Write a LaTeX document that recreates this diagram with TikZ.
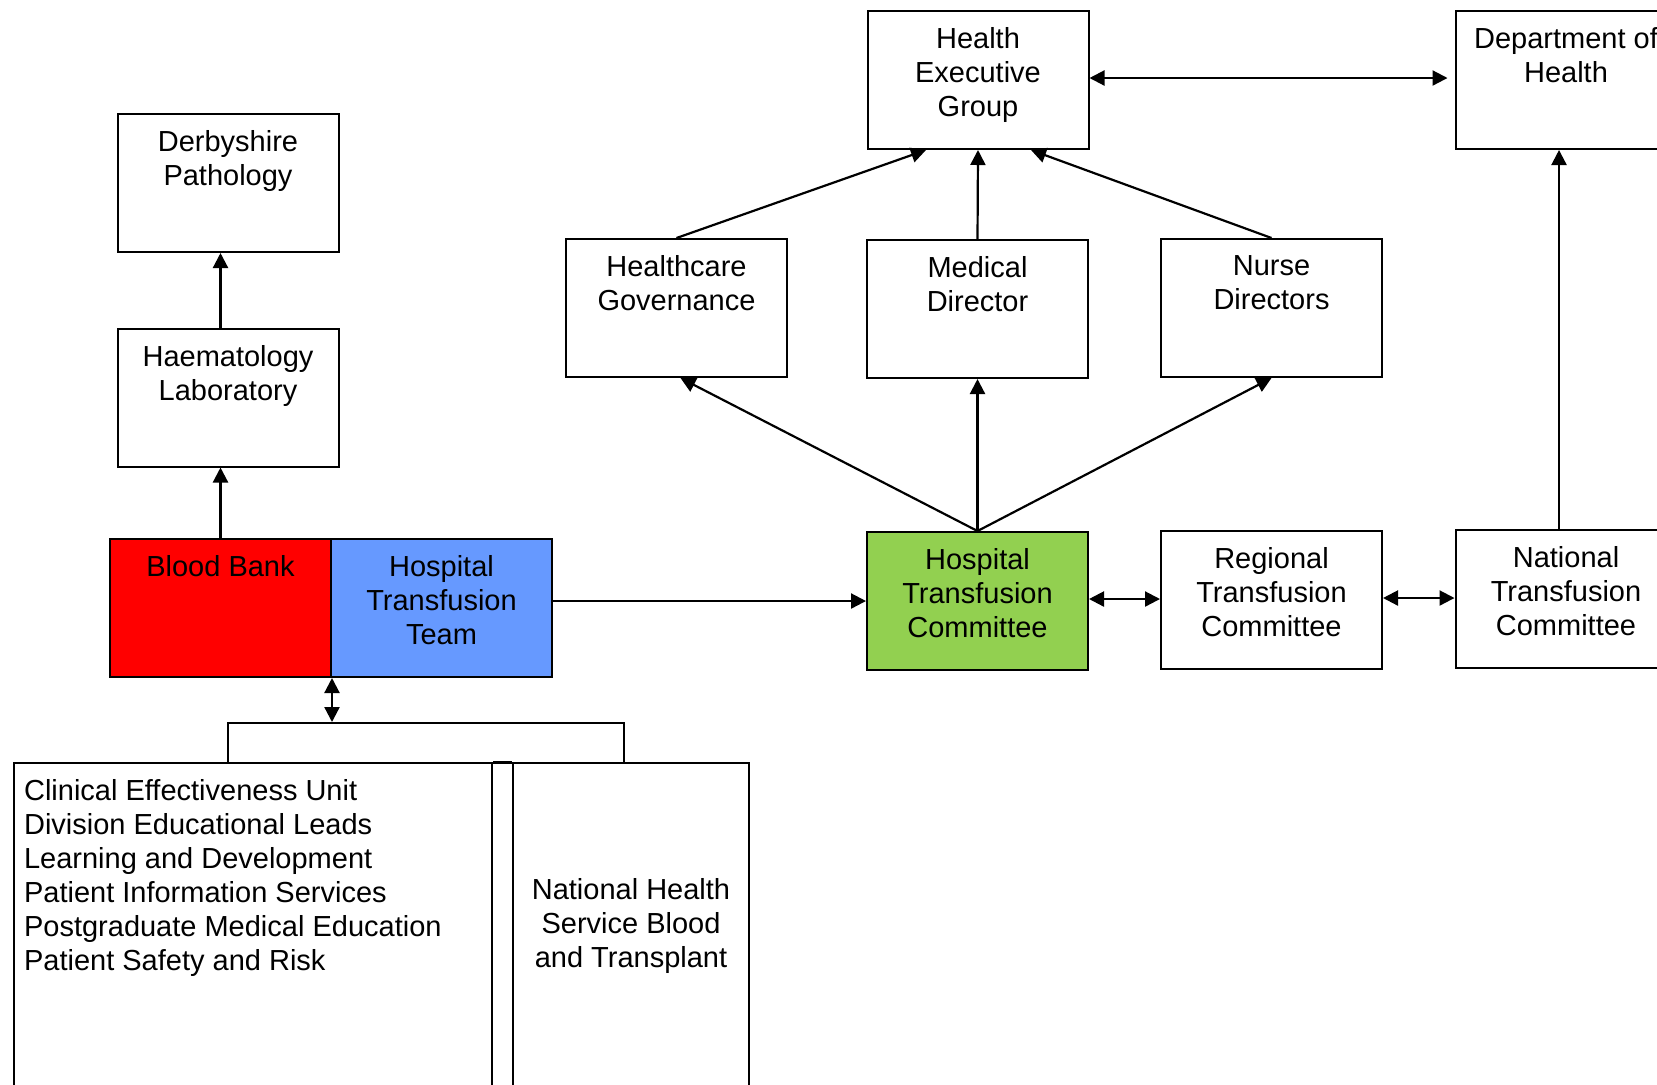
\documentclass[tikz,border=0pt]{standalone}
\usepackage{fontspec}
\setmainfont{Liberation Sans}
\usetikzlibrary{arrows.meta,positioning}
\definecolor{ink}{HTML}{000000}
\definecolor{bankred}{HTML}{FF0000}
\definecolor{teamblue}{HTML}{6699FF}
\definecolor{cttgreen}{HTML}{92D050}

\begin{document}
\begin{tikzpicture}[x=0.5pt,y=-0.5pt,
  font=\fontsize{14.5}{17}\selectfont,
  box/.style={draw=ink,line width=1pt,minimum width=110.5pt,minimum height=69pt,inner sep=0pt},
  toptext/.style={anchor=north,align=center,yshift=-5.4pt},
  arr/.style={draw=ink,line width=1.1pt,-{Triangle[length=7.5pt,width=7.5pt]}},
  darr/.style={draw=ink,line width=1.1pt,{Triangle[length=7.5pt,width=7.5pt]}-{Triangle[length=7.5pt,width=7.5pt]}}]
  \useasboundingbox (0,0) rectangle (1657,1084);

  % top row
  \node[box,label={[toptext]north:Health\\Executive\\Group}] (heg) at (978,80) {};
  \node[box,label={[toptext]north:Department of\\Health}] (doh) at (1566,80) {};

  % middle row
  \node[box,label={[toptext]north:Healthcare\\Governance}] (hg) at (676.5,308) {};
  \node[box,label={[toptext]north:Medical\\Director}] (md) at (977.5,309) {};
  \node[box,label={[toptext]north:Nurse\\Directors}] (nd) at (1271.5,308) {};

  % laboratory side
  \node[box,label={[toptext]north:Derbyshire\\Pathology}] (derby) at (228,183) {};
  \node[box,label={[toptext]north:Haematology\\Laboratory}] (haem) at (228,397.5) {};
  \node[box,fill=bankred,label={[toptext]north:Blood Bank}] (bb) at (220.5,608) {};
  \node[box,fill=teamblue,label={[toptext]north:Hospital\\Transfusion\\Team}] (htt) at (441.5,608) {};

  % committees
  \node[box,fill=cttgreen,label={[toptext]north:Hospital\\Transfusion\\Committee}] (htc) at (977.5,601) {};
  \node[box,label={[toptext]north:Regional\\Transfusion\\Committee}] (rtc) at (1271.5,600) {};
  \node[box,label={[toptext]north:National\\Transfusion\\Committee}] (ntc) at (1566,598.5) {};

  % education and support
  \node[draw=ink,line width=1pt,minimum width=198pt,minimum height=20pt] (grp) at (426,743) {};
  \node[box,minimum width=239pt,minimum height=163pt,
        label={[anchor=north west,align=left,xshift=2pt,yshift=-5.4pt]north west:Clinical Effectiveness Unit\\Division Educational Leads\\Learning and Development\\Patient Information Services\\Postgraduate Medical Education\\Patient Safety and Risk}] (ceu) at (253,926) {};
  \node[box,minimum width=118pt,minimum height=163pt,align=center] (nhsbt) at (631,926) {National Health\\Service Blood\\and Transplant};
  \draw[ink,line width=1pt] (ceu.north east) -- (nhsbt.north west);

  % connectors
  \draw[darr,shorten >=3.5pt] ([yshift=1pt]heg.east) -- ([yshift=1pt]heg.east -| doh.west);
  \draw[arr] (hg.north) -- ([xshift=-26pt]heg.south);
  \draw[arr] (md.north) -- (heg.south);
  \draw[arr] (nd.north) -- ([xshift=26.5pt]heg.south);
  \draw[arr] (htc.north) -- ([xshift=2pt]hg.south);
  \draw[arr] (htc.north) -- (md.south);
  \draw[arr] (htc.north) -- (nd.south);
  \draw[arr] ([yshift=3.5pt]htt.east) -- ([yshift=3.5pt]htt.east -| htc.west);
  \draw[darr] ([yshift=1pt]htc.east) -- ([yshift=1pt]htc.east -| rtc.west);
  \draw[darr] ([yshift=1pt]rtc.east) -- ([yshift=1pt]rtc.east -| ntc.west);
  \draw[arr] ([xshift=-3.5pt]ntc.north) -- ([xshift=-3.5pt]doh.south);
  \draw[arr] (bb.north) -- (bb.north |- haem.south);
  \draw[arr] (bb.north |- haem.north) -- (bb.north |- derby.south);
  \draw[darr] (bb.south east) -- (bb.south east |- grp.north);
\end{tikzpicture}
\end{document}
